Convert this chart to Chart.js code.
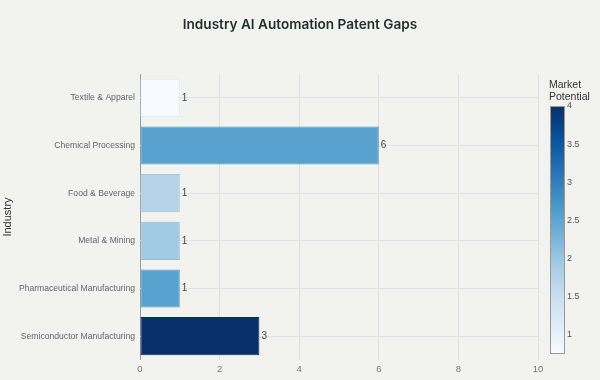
<!DOCTYPE html>
<html>
<head>
<meta charset="utf-8">
<script src="https://cdn.jsdelivr.net/npm/chart.js@4.4.0/dist/chart.umd.min.js"></script>
<style>
html,body{margin:0;padding:0;background:#f2f2ef;}
#wrap{width:600px;height:380px;position:relative;}
</style>
</head>
<body>
<div id="wrap"><canvas id="c" width="600" height="380"></canvas></div>
<script>
const industries = ["Textile & Apparel","Chemical Processing","Food & Beverage","Metal & Mining","Pharmaceutical Manufacturing","Semiconductor Manufacturing"];
const patentGaps = [1, 6, 1, 1, 1, 3];
const marketPotential = [0.75, 2.55, 1.75, 1.95, 2.55, 4];
const xTicks = [0, 2, 4, 6, 8, 10];
const colorbarTicks = [1, 1.5, 2, 2.5, 3, 3.5, 4];
const titleText = "Industry AI Automation Patent Gaps";
const yTitle = "Industry";
const cbTitle = ["Market", "Potential"];

const blues = [[0,[247,251,255]],[0.125,[222,235,247]],[0.25,[198,219,239]],[0.375,[158,202,225]],[0.5,[107,174,214]],[0.625,[66,146,198]],[0.75,[33,113,181]],[0.875,[8,81,156]],[1,[8,48,107]]];
const cmin = Math.min(...marketPotential), cmax = Math.max(...marketPotential);
function colorAt(t, dark){
  t = Math.max(0, Math.min(1, t));
  for (let i=1;i<blues.length;i++){
    if (t <= blues[i][0]){
      const [t0,c0]=blues[i-1],[t1,c1]=blues[i];
      const f=(t-t0)/(t1-t0);
      const c=c0.map((v,k)=>Math.round((v+(c1[k]-v)*f)*(dark||1)));
      return `rgb(${c[0]},${c[1]},${c[2]})`;
    }
  }
  return 'rgb(8,48,107)';
}
const fills = marketPotential.map(v=>colorAt((v-cmin)/(cmax-cmin)));
const borders = marketPotential.map(v=>colorAt((v-cmin)/(cmax-cmin),0.93));

const FONT = "'Liberation Sans', Arial, sans-serif";

const bgPlugin = {
  id:'bg',
  beforeDraw(chart){
    const ctx=chart.ctx; ctx.save(); ctx.fillStyle='#f2f2ef'; ctx.fillRect(0,0,chart.width,chart.height); ctx.restore();
  }
};
const extras = {
  id:'extras',
  afterDatasetsDraw(chart){
    const ctx=chart.ctx;
    ctx.save();
    const meta=chart.getDatasetMeta(0);
    ctx.font="10px "+FONT; ctx.fillStyle='#444'; ctx.textAlign='left'; ctx.textBaseline='middle';
    meta.data.forEach((el,i)=>{ ctx.fillText(String(patentGaps[i]), el.x+2, el.y); });
    ctx.font="600 13.6px Inter, "+FONT; ctx.fillStyle='#1f2e2c'; ctx.textAlign='center';
    ctx.fillText(titleText, 300, 25);
    const x0=550,x1=565,yTop=106,yBot=354;
    const g=ctx.createLinearGradient(0,yBot,0,yTop);
    for(let i=0;i<=20;i++){ g.addColorStop(i/20, colorAt(i/20)); }
    ctx.fillStyle=g; ctx.fillRect(x0,yTop,x1-x0,yBot-yTop);
    ctx.strokeStyle='#9a9a9a'; ctx.lineWidth=1; ctx.strokeRect(x0+0.5,yTop+0.5,x1-x0-1,yBot-yTop-1);
    ctx.font="9px "+FONT; ctx.fillStyle='#555'; ctx.textAlign='left'; ctx.textBaseline='middle';
    colorbarTicks.forEach(v=>{
      const y=yBot-(v-cmin)/(cmax-cmin)*(yBot-yTop);
      ctx.fillText(String(v), x1+2, y);
    });
    ctx.font="10.5px "+FONT; ctx.fillStyle='#333'; ctx.textBaseline='middle';
    ctx.fillText(cbTitle[0], 549, 85);
    ctx.fillText(cbTitle[1], 549, 97);
    ctx.restore();
  }
};

new Chart(document.getElementById('c'), {
  type:'bar',
  data:{ labels: industries, datasets:[{ data: patentGaps, backgroundColor: fills, borderColor: borders, borderWidth:1, borderSkipped:false, categoryPercentage:0.8, barPercentage:1 }]},
  options:{
    responsive:false, animation:false, indexAxis:'y',
    layout:{ padding:{ top:74, right:62, bottom:0, left:0 } },
    plugins:{ legend:{display:false}, tooltip:{enabled:false}, title:{display:false} },
    scales:{
      x:{ min:0, max:10, afterBuildTicks(s){ s.ticks = xTicks.map(v=>({value:v})); },
          grid:{ drawTicks:false, color:(c)=> c.tick && c.tick.value===0 ? '#9c9c9c' : '#dedede', lineWidth:1 },
          border:{ display:false },
          ticks:{ padding:4, color:'#777', font:{ family:FONT, size:9.5 } },
          afterFit(s){ s.height = 20; } },
      y:{ grid:{ drawTicks:false, offset:false, color:'#e2e2e2' },
          border:{ display:false },
          ticks:{ padding:5, color:'#666', font:{ family:FONT, size:8.6 } },
          title:{ display:true, text:yTitle, color:'#333', font:{ family:FONT, size:11 }, padding:{top:1,bottom:0} },
          afterFit(s){ s.width = 140; } }
    }
  },
  plugins:[bgPlugin, extras]
});
</script>
</body>
</html>
